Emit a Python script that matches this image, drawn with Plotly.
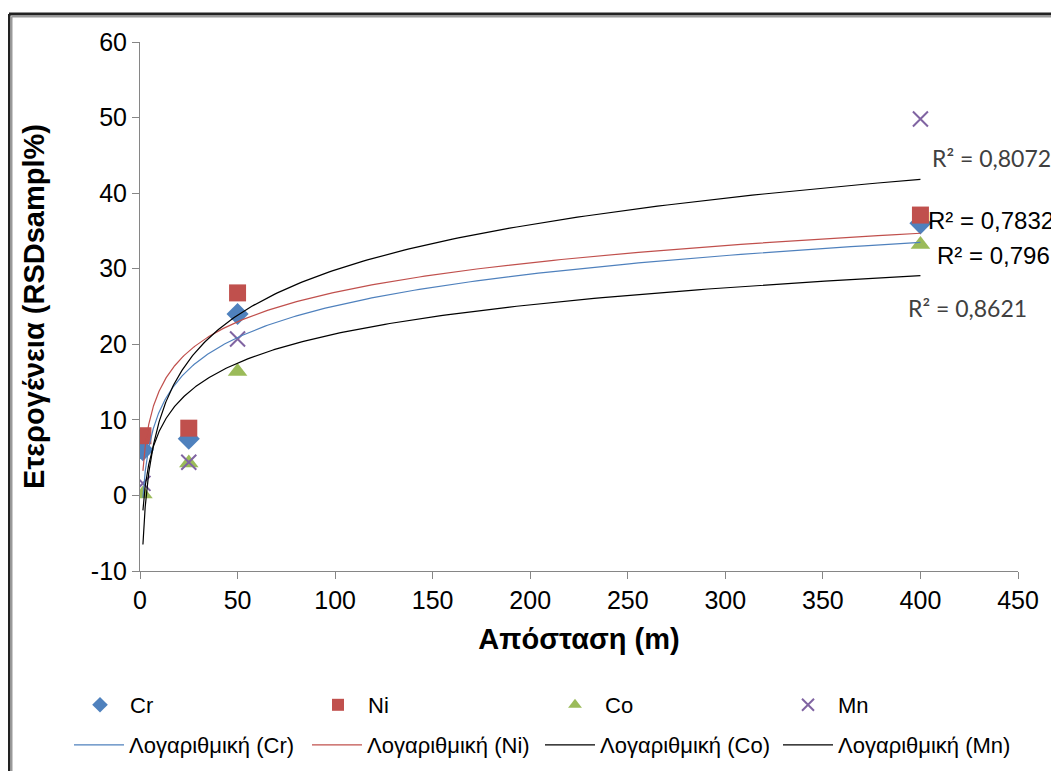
import numpy as np
import plotly.graph_objects as go

# ---- data ----
distance = [1.5, 25, 50, 400]
cr = [6.0, 7.5, 24.0, 36.0]
ni = [7.9, 8.9, 26.8, 37.1]
co = [0.2, 4.3, 16.4, 33.2]
mn = [1.6, 4.4, 20.7, 49.8]

# logarithmic trendlines y = a*ln(x) + b (coefficients)
trend_a = {"Cr": 6.05, "Ni": 5.63, "Co": 5.56, "Mn": 8.65}
trend_b = {"Cr": -2.77, "Ni": 0.96, "Co": -4.23, "Mn": -10.0}

r2_labels = ["R² = 0,8072", "R² = 0,7832", "R² = 0,796", "R² = 0,8621"]
r2_x = [405, 402.6, 407.7, 392.8]
r2_y = [44.6, 36.4, 31.8, 24.8]

x_ticks = [0, 50, 100, 150, 200, 250, 300, 350, 400, 450]
y_ticks = [-10, 0, 10, 20, 30, 40, 50, 60]
y_ticktext = ["-10", "0", "10", "20", "30", "40", "50", "60"]

colors = {"Cr": "#4F81BD", "Ni": "#C0504D", "Co": "#9BBB59", "Mn": "#8064A2"}
trend_colors = {"Cr": "#4F81BD", "Ni": "#C0504D", "Co": "#000000", "Mn": "#000000"}
symbols = {"Cr": "diamond", "Ni": "square", "Co": "triangle-up", "Mn": "x-thin"}
series = {"Cr": cr, "Ni": ni, "Co": co, "Mn": mn}
names = list(series.keys())

# page offset (browser body margin) -> work in figure pixels
OFF = 8
W, H = 1059 - OFF, 771 - OFF
L, R, T, B = 140 - OFF, 1018 - OFF, 42 - OFF, 571 - OFF

fig = go.Figure()
for i, (name, vals) in enumerate(series.items()):
    m = dict(symbol=symbols[name], size=17, color=colors[name])
    if name == "Mn":
        m = dict(symbol="x-thin", size=15, color=colors[name],
                 line=dict(width=2, color=colors[name]))
    fig.add_trace(go.Scatter(x=distance, y=vals, mode="markers", name=name,
                             marker=m, legend="legend" if i == 0 else f"legend{i+1}"))

xs = np.geomspace(min(distance), max(distance), 300)
for i, name in enumerate(names):
    ys = trend_a[name] * np.log(xs) + trend_b[name]
    fig.add_trace(go.Scatter(x=xs, y=ys, mode="lines",
                             name=f"Λογαριθμική ({name})",
                             line=dict(color=trend_colors[name], width=1.2),
                             legend=f"legend{i+5}", hoverinfo="skip"))

font_cal = "Lato, 'Open Sans', sans-serif"
font_ar = "'Liberation Sans', Arial, sans-serif"
for i, (lab, xx, yy) in enumerate(zip(r2_labels, r2_x, r2_y)):
    if i in (1, 2):
        f = dict(family=font_ar, size=24, color="#000000")
    else:
        f = dict(family=font_cal, size=23, color="#404040")
    fig.add_annotation(x=xx, y=yy, text=lab, showarrow=False, xanchor="left",
                       yanchor="middle", font=f)

# chart frame (left & top edges visible)
def px_x(p):
    return (p - OFF - L) / (R - L)
def px_y(p):
    return (B - (p - OFF)) / (B - T)

for (xp, yp, col, wd) in [(9, 14, "#222222", 3), (11.5, 16.5, "#9a9a9a", 2)]:
    fig.add_shape(type="line", xref="paper", yref="paper",
                  x0=px_x(xp), x1=px_x(xp), y0=px_y(yp), y1=px_y(800),
                  line=dict(color=col, width=wd))
    fig.add_shape(type="line", xref="paper", yref="paper",
                  x0=px_x(xp), x1=px_x(1100), y0=px_y(yp), y1=px_y(yp),
                  line=dict(color=col, width=wd))

axis_common = dict(showgrid=False, zeroline=False, showline=True,
                   linecolor="#868686", linewidth=1, ticks="outside",
                   ticklen=7, tickcolor="#868686",
                   tickfont=dict(family=font_ar, size=25, color="#000000"))

fig.update_xaxes(range=[0, 450], tickvals=x_ticks, **axis_common,
                 title=dict(text="<b>Απόσταση (m)</b>",
                            font=dict(family=font_ar, size=29, color="#000000"),
                            standoff=15))
fig.update_yaxes(range=[-10, 60], tickvals=y_ticks, ticktext=y_ticktext,
                 **axis_common,
                 title=dict(text="<b>Ετερογένεια (RSDsampl%)</b>",
                            font=dict(family=font_ar, size=29, color="#000000"),
                            standoff=37))

legend_common = dict(orientation="h", xref="container", yref="container",
                     xanchor="left", yanchor="middle",
                     bgcolor="rgba(0,0,0,0)", itemwidth=50,
                     font=dict(family=font_ar, size=22, color="#000000"))
# text start (page px) of each legend column, rows' centre (page px)
text_x_row1 = [130, 368, 605, 838]
text_x_row2 = [129, 367, 600, 838]
row_y = [705, 745]
legends = {}
for i in range(4):
    key = "legend" if i == 0 else f"legend{i+1}"
    legends[key] = dict(x=(text_x_row1[i] - OFF - 60) / W,
                        y=1 - (row_y[0] - OFF) / H, itemsizing="constant",
                        **legend_common)
    legends[f"legend{i+5}"] = dict(x=(text_x_row2[i] - OFF - 60) / W,
                                   y=1 - (row_y[1] - OFF) / H,
                                   **legend_common)

fig.update_layout(
    width=W, height=H,
    margin=dict(l=L, r=W - R, t=T, b=H - B),
    plot_bgcolor="white", paper_bgcolor="white",
    showlegend=True,
    **legends,
)

fig.write_html("out.html")
